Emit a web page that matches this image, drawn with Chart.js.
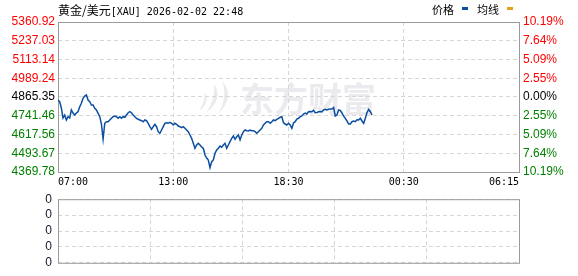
<!DOCTYPE html>
<html>
<head>
<meta charset="utf-8">
<script src="https://cdn.jsdelivr.net/npm/chart.js@4.4.1/dist/chart.umd.min.js"></script>
<style>
    body { margin: 0; background: #fff; }
    #wrap { position: relative; width: 578px; height: 276px; overflow: hidden; }
    #priceChart { position: absolute; left: 0; top: 0; }
    #volChart { position: absolute; left: 0; top: 186px; }
    .title { position: absolute; left: 58px; top: 1px; white-space: nowrap; color: #000; }
    .cjk { font: 12px 'Noto Sans CJK SC'; }
    .mono { font: 10px 'DejaVu Sans Mono'; }
    .legend { position: absolute; left: 432px; top: 1px; white-space: nowrap; font: 11px 'Noto Sans CJK SC'; color: #000; }
    .mark { display: inline-block; width: 6px; height: 3px; vertical-align: 4px; margin: 0 9px 0 8px; }
</style>
</head>
<body>
<div id="wrap">
    <canvas id="priceChart" width="578" height="190"></canvas>
    <canvas id="volChart" width="578" height="90"></canvas>
    <div class="title"><span class="cjk">黄金/美元</span><span class="mono">[XAU] 2026-02-02 22:48</span></div>
    <div class="legend">价格<span class="mark" style="background:#0b4fa0"></span>均线<span class="mark" style="background:#e3a31a"></span></div>
</div>
<script>
// previous close, price axis range and ticks (top to bottom)
const prevClose = 4865.35;
const priceMin = 4369.78;
const priceMax = 5360.92;
const priceTicks = [5360.92, 5237.03, 5113.14, 4989.24, 4865.35, 4741.46, 4617.56, 4493.67, 4369.78];
const pctTicks = ['10.19%', '7.64%', '5.09%', '2.55%', '0.00%', '2.55%', '5.09%', '7.64%', '10.19%'];

// x axis: whole session split into slots, labels at the quarter marks
const slotCount = 276;
const xTickLabels = ['07:00', '13:00', '18:30', '00:30', '06:15'];

// minute prices, one per slot from 07:00
const prices = [
    4845.5, 4834.3, 4792.7, 4726.6, 4746.4, 4713.4, 4735.2, 4726.6, 4779.5, 4759.6,
    4746.4, 4759.6, 4768.2, 4801.3, 4823.7, 4856.8, 4872.0, 4878.6, 4845.5, 4834.3,
    4812.5, 4812.5, 4790.7, 4779.5, 4757.6, 4735.2, 4686.9, 4587.8, 4691.6, 4702.1,
    4702.1, 4713.4, 4724.6, 4735.2, 4739.8, 4735.2, 4724.6, 4735.2, 4724.6, 4735.2,
    4731.2, 4746.4, 4761.6, 4768.2, 4761.6, 4746.4, 4735.2, 4724.6, 4718.0, 4713.4,
    4708.8, 4702.1, 4713.4, 4708.8, 4691.6, 4669.1, 4651.9, 4669.1, 4685.0, 4669.1,
    4636.1, 4625.5, 4647.3, 4669.1, 4691.6, 4695.5, 4691.6, 4698.2, 4691.6, 4680.3,
    4691.6, 4685.0, 4673.7, 4669.1, 4662.5, 4669.1, 4658.5, 4647.3, 4636.1, 4614.3,
    4592.5, 4559.4, 4526.4, 4548.2, 4559.4, 4548.2, 4535.0, 4526.4, 4482.1, 4462.3,
    4449.1, 4398.2, 4437.8, 4449.1, 4493.3, 4515.2, 4526.4, 4541.6, 4533.0, 4548.2,
    4559.4, 4526.4, 4548.2, 4570.0, 4592.5, 4607.7, 4585.9, 4603.0, 4614.3, 4581.2,
    4614.3, 4636.1, 4647.3, 4642.7, 4640.7, 4647.3, 4642.7, 4642.7, 4636.1, 4625.5,
    4636.1, 4647.3, 4658.5, 4680.3, 4691.6, 4702.1, 4702.1, 4691.6, 4702.1, 4713.4,
    4708.8, 4718.0, 4724.6, 4731.2, 4735.2, 4695.5, 4686.9, 4680.3, 4691.6, 4680.3,
    4658.5, 4693.6, 4702.1, 4720.0, 4724.6, 4735.2, 4739.8, 4753.0, 4759.6, 4753.0,
    4768.2, 4769.5, 4768.2, 4777.5, 4761.6, 4762.9, 4768.2, 4769.5, 4768.2, 4779.5,
    4784.1, 4779.5, 4784.1, 4786.1, 4786.1, 4796.0, 4739.8, 4746.4, 4779.5, 4776.2,
    4759.6, 4739.8, 4724.6, 4706.8, 4686.9, 4686.9, 4702.1, 4706.8, 4702.1, 4715.4,
    4713.4, 4724.6, 4706.8, 4691.6, 4724.6, 4762.9, 4782.8, 4768.2, 4746.4
];

// volume panel: no volume in the feed, axis shows zeros
const volumes = [];
const volTicks = ['0', '0', '0', '0', '0'];

const gridColor = '#d6d6d6';
const frameColor = '#9b9b9b';
const upColor = '#ff0000';
const downColor = '#008000';

function priceColor(v) {
    if (Math.abs(v - prevClose) < 0.01) return '#000000';
    return v > prevClose ? upColor : downColor;
}

// light grey logo + brand name behind the price line
function drawWatermark(ctx) {
    ctx.save();
    ctx.fillStyle = '#ebebef';
    // swoosh logo
    ctx.beginPath();
    ctx.moveTo(222, 81);
    ctx.quadraticCurveTo(236, 96, 218, 114);
    ctx.quadraticCurveTo(228, 97, 222, 81);
    ctx.fill();
    ctx.beginPath();
    ctx.moveTo(214, 84);
    ctx.quadraticCurveTo(224, 99, 206, 113);
    ctx.quadraticCurveTo(216, 99, 214, 84);
    ctx.fill();
    ctx.beginPath();
    ctx.moveTo(205, 92);
    ctx.quadraticCurveTo(210, 103, 199, 111);
    ctx.quadraticCurveTo(205, 101, 205, 92);
    ctx.fill();
    ctx.font = 'bold 34px "Noto Sans CJK SC"';
    ctx.textBaseline = 'alphabetic';
    ctx.fillText('东方财富', 240, 112);
    ctx.restore();
}

const framePlugin = {
    id: 'frame',
    beforeDraw(chart, args, opts) {
        if (opts.watermark) drawWatermark(chart.ctx);
    },
    beforeDatasetsDraw(chart) {
        const { left, top, width, height } = chart.chartArea;
        const ctx = chart.ctx;
        ctx.save();
        ctx.strokeStyle = frameColor;
        ctx.lineWidth = 1;
        ctx.strokeRect(left + 0.5, top + 0.5, width, height);
        ctx.restore();
    }
};

const labelFont = { family: 'Liberation Sans', size: 12 };

function xScale(showLabels, height) {
    return {
        type: 'linear',
        min: 0,
        max: slotCount,
        afterFit: s => { s.height = height; },
        afterBuildTicks: s => {
            s.ticks = xTickLabels.map((_, i) => ({ value: i * slotCount / (xTickLabels.length - 1) }));
        },
        grid: { color: gridColor, drawTicks: false },
        border: { display: false, dash: [4, 3] },
        ticks: {
            display: showLabels,
            autoSkip: false,
            maxRotation: 0,
            align: 'inner',
            padding: 4,
            color: '#000',
            font: { family: 'DejaVu Sans Mono', size: 10 },
            callback: (v, i) => xTickLabels[i]
        }
    };
}

new Chart(document.getElementById('priceChart'), {
    type: 'line',
    data: {
        datasets: [{
            label: '价格',
            data: prices.map((p, i) => ({ x: i, y: p })),
            borderColor: '#0b4fa0',
            borderWidth: 1.5,
            pointRadius: 0,
            tension: 0,
            yAxisID: 'y'
        }]
    },
    options: {
        responsive: false,
        animation: false,
        layout: { padding: { top: 22, left: 0, right: 0, bottom: 0 } },
        plugins: { legend: { display: false }, tooltip: { enabled: false }, frame: { watermark: true } },
        scales: {
            x: xScale(true, 18),
            y: {
                position: 'left',
                min: priceMin,
                max: priceMax,
                afterFit: s => { s.width = 58; },
                afterBuildTicks: s => { s.ticks = priceTicks.map(v => ({ value: v })); },
                grid: { color: gridColor, drawTicks: false },
                border: { display: false, dash: [4, 3] },
                ticks: {
                    padding: 3,
                    font: labelFont,
                    color: c => priceColor(c.tick.value),
                    callback: v => v.toFixed(2)
                }
            },
            y2: {
                position: 'right',
                min: priceMin,
                max: priceMax,
                afterFit: s => { s.width = 59; },
                afterBuildTicks: s => { s.ticks = priceTicks.map(v => ({ value: v })); },
                grid: { display: false, drawTicks: false },
                border: { display: false },
                ticks: {
                    padding: 4,
                    font: labelFont,
                    color: c => priceColor(c.tick.value),
                    callback: (v, i) => pctTicks[i]
                }
            }
        }
    },
    plugins: [framePlugin]
});

new Chart(document.getElementById('volChart'), {
    type: 'bar',
    data: {
        datasets: [{ label: '成交量', data: volumes, backgroundColor: '#0b4fa0' }]
    },
    options: {
        responsive: false,
        animation: false,
        layout: { padding: { top: 10, left: 0, right: 59, bottom: 0 } },
        plugins: { legend: { display: false }, tooltip: { enabled: false }, frame: { watermark: false } },
        scales: {
            x: xScale(false, 6),
            y: {
                min: 0,
                max: volTicks.length - 1,
                afterFit: s => { s.width = 58; },
                afterBuildTicks: s => { s.ticks = volTicks.map((_, i) => ({ value: i })); },
                grid: { color: gridColor, drawTicks: false },
                border: { display: false, dash: [4, 3] },
                ticks: {
                    padding: 6,
                    font: labelFont,
                    color: '#101828',
                    callback: (v, i) => volTicks[i]
                }
            }
        }
    },
    plugins: [framePlugin]
});
</script>
</body>
</html>
